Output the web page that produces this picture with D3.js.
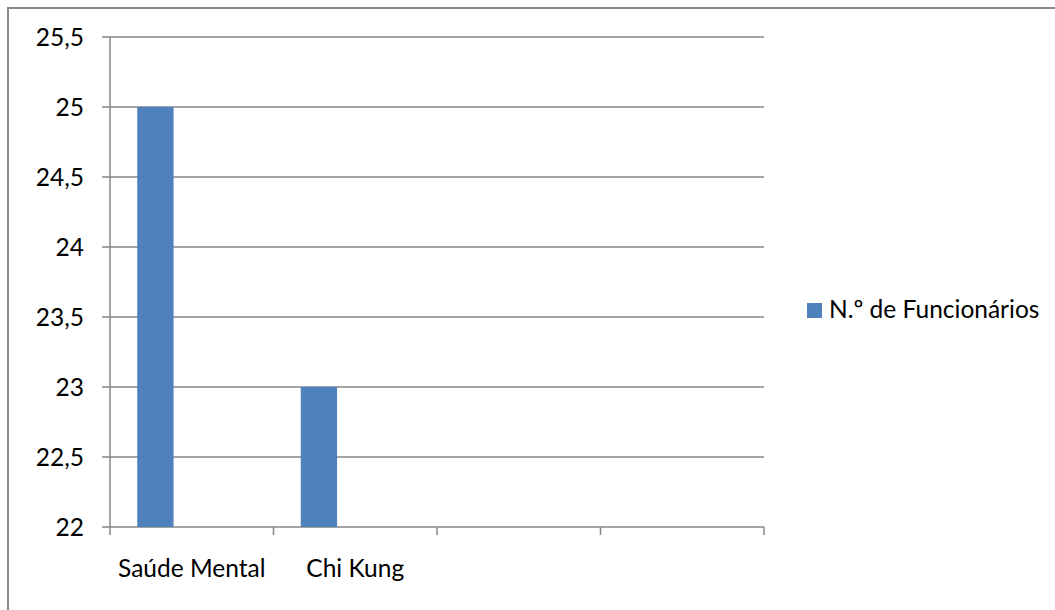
<!DOCTYPE html>
<html><head><meta charset="utf-8">
<script src="https://cdn.jsdelivr.net/npm/d3@7"></script>
<style>body{margin:0;background:#fff}svg{display:block}text{font-family:Lato,"Open Sans",sans-serif;fill:#000}</style>
</head><body><svg id="c" width="1055" height="610"></svg>
<script>
const categories = ["Saúde Mental", "Chi Kung", "", ""];
const seriesName = "N.º de Funcionários";
const values = [25, 23, null, null];
const yTicks = [22, 22.5, 23, 23.5, 24, 24.5, 25, 25.5];
const seriesSlots = [seriesName, "slot2", "slot3"];

const svg = d3.select("#c");
const FS = 24.5;
const m = {l:110, r:764, t:37, b:527};
const loc = d3.formatLocale({decimal:",", thousands:".", grouping:[3], currency:["€",""]});
const fmt = loc.format("~g");

svg.append("rect").attr("x",8).attr("y",8).attr("width",1100).attr("height",700)
  .attr("fill","none").attr("stroke","#8a8a8a").attr("stroke-width",2);

const y = d3.scaleLinear().domain([22,25.5]).range([m.b,m.t]);
const x0 = d3.scaleBand().domain(d3.range(categories.length)).range([m.l,m.r]).padding(0);
const x1 = d3.scaleBand().domain(seriesSlots).range([0,x0.bandwidth()]).paddingInner(0).paddingOuter(0.75);

const g = svg.append("g");
g.selectAll("line.grid").data(yTicks).join("line")
  .attr("x1",m.l-8).attr("x2",m.r).attr("y1",d=>y(d)).attr("y2",d=>y(d))
  .attr("stroke","#868686").attr("stroke-width",1.5);
g.append("line").attr("x1",m.l).attr("x2",m.l).attr("y1",m.t).attr("y2",m.b)
  .attr("stroke","#868686").attr("stroke-width",1.5);
g.selectAll("text.yl").data(yTicks).join("text")
  .attr("x",84).attr("y",d=>y(d)).attr("dy","0.36em").attr("text-anchor","end")
  .attr("font-size",FS).text(d=>fmt(d));

const bounds = d3.range(categories.length+1).map(i=> i<categories.length ? x0(i) : x0.range()[1]);
g.selectAll("line.xt").data(bounds).join("line")
  .attr("x1",d=>d).attr("x2",d=>d).attr("y1",m.b).attr("y2",m.b+8)
  .attr("stroke","#868686").attr("stroke-width",1.5);

g.selectAll("rect.bar").data(values.map((v,i)=>({v,i})).filter(d=>d.v!=null)).join("rect")
  .attr("x",d=>x0(d.i)+x1(seriesName)).attr("width",x1.bandwidth())
  .attr("y",d=>y(d.v)).attr("height",d=>y(22)-y(d.v)).attr("fill","#4f81bd");

g.selectAll("text.xl").data(categories).join("text")
  .attr("x",(d,i)=>x0(i)+x0.bandwidth()/2).attr("y",577).attr("text-anchor","middle")
  .attr("font-size",FS).text(d=>d);

svg.append("rect").attr("x",807).attr("y",303).attr("width",15).attr("height",15).attr("fill","#4f81bd");
svg.append("text").attr("x",829).attr("y",318).attr("font-size",FS).text(seriesName);
</script></body></html>
